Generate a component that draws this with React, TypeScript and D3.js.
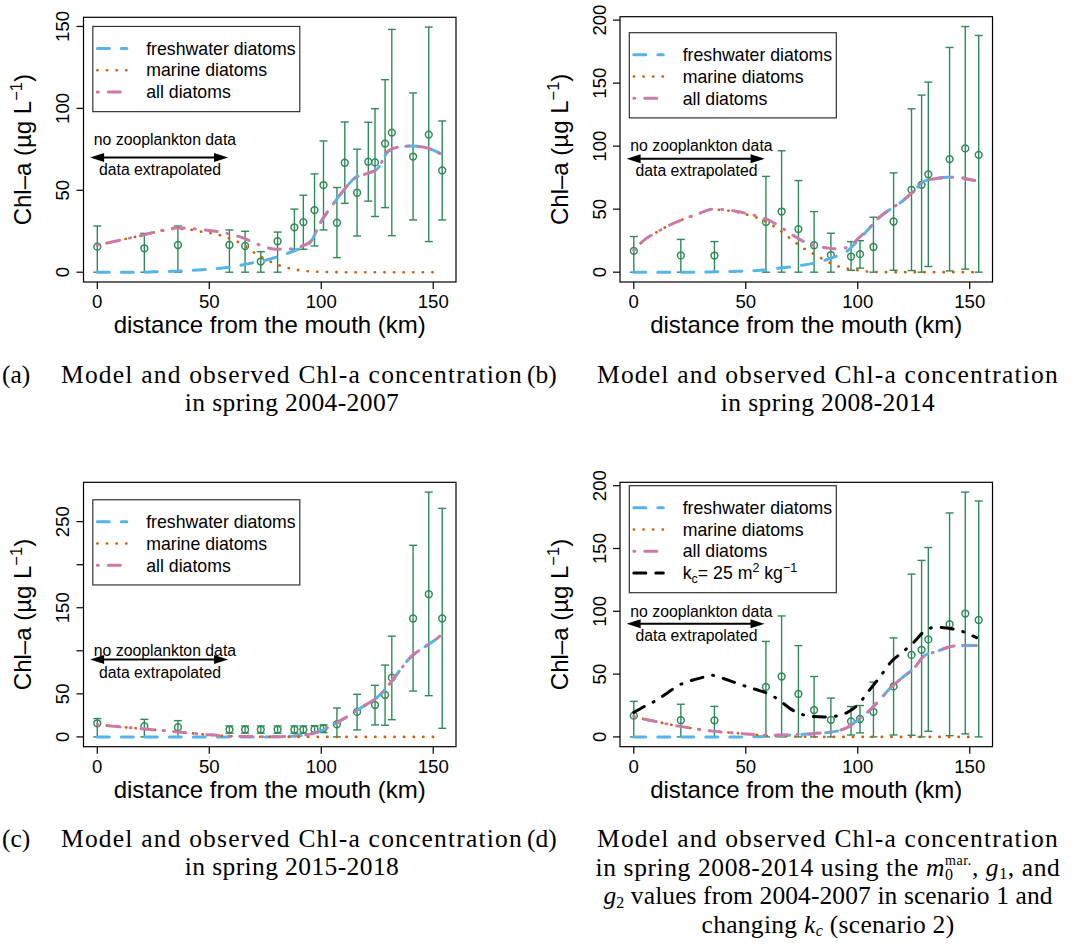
import React from "react";
import * as d3 from "d3";

// ---------------- data ----------------
const kmGrid = [0, 5, 10, 15, 20, 25, 30, 35, 40, 45, 50, 55, 60, 65, 70, 75, 80, 85, 90, 95, 100, 105, 110, 115, 120, 125, 130, 135, 140, 145, 150, 153];
const xTicks = [0, 50, 100, 150];

// (a) spring 2004-2007
const stationsA = [0, 21, 36, 59, 66, 73, 80.5, 88, 92, 97, 101, 107, 110.5, 116, 121, 124, 128.5, 131.5, 141, 148, 154];
const meanA = [15.6, 14.6, 16.6, 16.6, 16, 6.5, 18.9, 27.4, 30.6, 37.9, 53.2, 30.2, 66.8, 48.5, 67.4, 67, 78.5, 85.2, 70.6, 84, 62.1];
const upperA = [28.2, 23.7, 28.2, 25.8, 25, 12.5, 24.5, 38.5, 47, 60, 80.1, 51.7, 91.7, 75.1, 91.5, 99.8, 117.5, 148.2, 109.4, 149.6, 92.3];
const lowerA = [0, 0, 0, 0, 0, 0, 0, 14, 14, 16, 25.8, 8.9, 42, 22.1, 43.4, 34, 39.4, 22.3, 31.9, 18.7, 31.9];
const freshA = [0, 0, 0, 0, 0, 0.2, 0.4, 0.6, 0.9, 1.3, 1.8, 2.4, 3.2, 4.5, 6, 7.3, 9.2, 11.5, 14.2, 18, 31, 41, 50, 57.5, 60, 63, 74, 76.5, 77, 76.5, 74.5, 72.5];
const marineA = [16.5, 18, 19.5, 21, 22.5, 24.2, 25.5, 26.5, 26.3, 25, 24, 22.5, 20, 17, 12, 8, 4.8, 2.6, 1.2, 0.5, 0.2, 0.1, 0, 0, 0, 0, 0, 0, 0, 0, 0, 0];
const allA = [16.5, 18, 19.5, 21, 22.5, 24.3, 25.8, 27, 27, 26.2, 25.5, 24.5, 23, 21, 18, 15.3, 14, 14.1, 15.3, 18.5, 31.2, 41, 50, 57.5, 60, 63, 74, 76.5, 77, 76.5, 74.5, 72.5];

// (b) spring 2008-2014
const stationsB = [0, 21, 36, 59, 66, 73.5, 80.5, 88, 97, 101, 107, 116, 124, 128.5, 131.5, 141, 148, 154];
const meanB = [16.9, 13.3, 13.2, 39.8, 48.1, 34.2, 21.4, 13.6, 12.4, 14.3, 20, 40.2, 65.3, 69.3, 77.6, 89.7, 98.2, 93.1];
const upperB = [28.3, 26, 24.3, 76, 96.3, 72.7, 48.1, 30.9, 24.2, 25, 43.6, 78.8, 129.6, 140.5, 150.8, 178.3, 194.9, 187.8];
const lowerB = [0, 0, 0, 0, 0, 0, 0, 0, 1.5, 3.2, 0, 1.5, 1.3, 0, 4.5, 1, 2.4, 0];
const freshB = [0, 0, 0, 0, 0, 0, 0, 0.2, 0.4, 0.6, 0.9, 1.3, 2.2, 3.2, 4.2, 5.5, 7, 9.3, 12.3, 16.3, 25, 34.5, 44, 50.5, 56.5, 64.5, 72.5, 74.3, 75.3, 75.2, 73.5, 72.5];
const marineB = [17.5, 26, 31.5, 36.5, 40.5, 44, 47, 49.8, 49.2, 48, 45.9, 43.2, 39, 33.5, 26.5, 19.8, 14.8, 9.8, 5.4, 3, 1.5, 0.4, 0.1, 0, 0, 0, 0, 0, 0, 0, 0, 0];
const allB = [17.5, 26, 31.5, 36.5, 40.5, 44, 47.2, 50, 49.6, 48.6, 46.8, 44.5, 41.5, 36.5, 30.5, 25, 21.5, 19.5, 18.5, 19.5, 26.5, 34.9, 44.1, 50.5, 56.5, 64.5, 72.5, 74.3, 75.3, 75.2, 73.5, 72.5];

// (c) spring 2015-2018
const stationsC = [0, 21, 36, 59, 66, 73, 80.5, 88, 92, 97, 101, 107, 116, 124, 128.5, 131.5, 141, 148, 154];
const meanC = [15.8, 12.5, 11.2, 8.5, 8.5, 8.5, 8.5, 8.5, 8.5, 8.9, 10, 14.7, 29, 37.1, 48.7, 68.8, 137.5, 165.7, 137.5];
const upperC = [21.3, 20.4, 18.9, 12.7, 12.7, 12.7, 12.7, 12.7, 12.7, 13, 14, 33.6, 49.5, 59.9, 83.4, 117, 222.5, 284.3, 265.4];
const lowerC = [0, 0, 0, 4.3, 4.3, 4.3, 4.3, 4.3, 4.3, 4.6, 5, 0, 8.1, 13.9, 13.5, 20, 53.3, 47.9, 10];
const freshC = [0, 0, 0, 0, 0, 0, 0, 0, 0, 0, 0, 0, 0, 0, 0, 0, 0.1, 0.5, 1.5, 3.2, 7.3, 13.8, 21, 29.3, 37.5, 45.8, 60, 77, 93, 102.5, 111, 117];
const marineC = [14, 12.9, 11.7, 10.6, 9.5, 8.3, 7.2, 6, 4.8, 3.6, 2.4, 1.5, 0.8, 0.5, 0.3, 0.2, 0.1, 0.05, 0, 0, 0, 0, 0, 0, 0, 0, 0, 0, 0, 0, 0, 0];
const allC = [14, 12.9, 11.7, 10.6, 9.5, 8.3, 7.2, 6, 4.8, 3.6, 2.4, 1.5, 0.8, 0.5, 0.3, 0.2, 0.2, 0.6, 1.5, 3.2, 7.3, 13.8, 21, 29.3, 37.5, 45.8, 60, 77, 93, 102.5, 111, 117];

// (d) spring 2008-2014, scenario 1 and k_c scenario 2 (observations as in b)
const freshD = [0, 0, 0, 0, 0, 0, 0, 0, 0, 0, 0, 0.2, 0.5, 1, 1.4, 2, 2.5, 3.2, 4.4, 7.1, 13.5, 20.5, 30, 39.7, 47.3, 54.6, 65, 67.8, 71.2, 72.7, 72.8, 72.8];
const marineD = [16.4, 14, 12.2, 10.3, 8.6, 7.2, 5.8, 4.6, 3.8, 3.1, 2.4, 1.6, 0.8, 0.5, 0.4, 0.2, 0.1, 0.05, 0, 0, 0, 0, 0, 0, 0, 0, 0, 0, 0, 0, 0, 0];
const allD = [16.4, 14, 12.2, 10.3, 8.6, 7.2, 5.8, 4.6, 3.8, 3.1, 2.4, 1.8, 1.3, 1.5, 1.8, 2.2, 2.6, 3.4, 4.6, 7.2, 13.5, 20.5, 30, 39.7, 47.3, 54.6, 65, 67.8, 71.2, 72.7, 72.8, 72.8];
const kcD = [19.5, 24.5, 29, 35, 41, 44.5, 47, 49, 46.5, 43.4, 40.3, 37.5, 34.5, 29.1, 22.3, 18, 16.2, 15.9, 16.5, 19.2, 25.5, 36.7, 48, 60, 67.5, 75.3, 84.5, 87.4, 86.6, 85, 81.5, 79];

const legendLabels = ["freshwater diatoms", "marine diatoms", "all diatoms"];
const panelLetters = ["(a)", "(b)", "(c)", "(d)"];
const captionLine1 = "Model and observed Chl-a concentration";
const captionLine2 = ["in spring 2004-2007", "in spring 2008-2014", "in spring 2015-2018"];

// ---------------- styles ----------------
const SANS = "'Liberation Sans', Arial, Helvetica, sans-serif";
const SERIF = "'Liberation Serif', 'Times New Roman', serif";
const COL_FRESH = "#56B4E9";
const COL_MARINE = "#D55E00";
const COL_ALL = "#CC79A7";
const COL_OBS = "#2E8B57";

type Style = { color: string; width: number; dash: string };
const STYLE_FRESH: Style = { color: COL_FRESH, width: 3, dash: "12 12" };
const STYLE_MARINE: Style = { color: COL_MARINE, width: 2.6, dash: "0.3 9.3" };
const STYLE_ALL: Style = { color: COL_ALL, width: 3, dash: "1 10 12 10" };
const STYLE_KC: Style = { color: "#000", width: 3, dash: "12 10 1 10" };

type Frame = { x0: number; x1: number; y0: number; y1: number };
type PanelSpec = {
  frame: Frame;
  stations: number[];
  mean: number[];
  upper: number[];
  lower: number[];
  lines: { values: number[]; style: Style }[];
  yTicks: number[];
  yLabels: number[];
  legendTop: number;
  legendKc: boolean;
  arrowY: number;
  text1Y: number;
  text2Y: number;
};

const panels: PanelSpec[] = [
  {
    frame: { x0: 83.5, x1: 456, y0: 17.3, y1: 282 },
    stations: stationsA, mean: meanA, upper: upperA, lower: lowerA,
    lines: [
      { values: freshA, style: STYLE_FRESH },
      { values: marineA, style: STYLE_MARINE },
      { values: allA, style: STYLE_ALL },
    ],
    yTicks: [0, 50, 100, 150], yLabels: [0, 50, 100, 150],
    legendTop: 150, legendKc: false, arrowY: 70, text1Y: 77.5, text2Y: 59.5,
  },
  {
    frame: { x0: 620, x1: 992.5, y0: 16.7, y1: 282 },
    stations: stationsB, mean: meanB, upper: upperB, lower: lowerB,
    lines: [
      { values: freshB, style: STYLE_FRESH },
      { values: marineB, style: STYLE_MARINE },
      { values: allB, style: STYLE_ALL },
    ],
    yTicks: [0, 50, 100, 150, 200], yLabels: [0, 50, 100, 150, 200],
    legendTop: 190, legendKc: false, arrowY: 90, text1Y: 95.9, text2Y: 76,
  },
  {
    frame: { x0: 83.5, x1: 456, y0: 482.3, y1: 746.7 },
    stations: stationsC, mean: meanC, upper: upperC, lower: lowerC,
    lines: [
      { values: freshC, style: STYLE_FRESH },
      { values: marineC, style: STYLE_MARINE },
      { values: allC, style: STYLE_ALL },
    ],
    yTicks: [0, 50, 100, 150, 200, 250], yLabels: [0, 50, 150, 250],
    legendTop: 275.4, legendKc: false, arrowY: 90, text1Y: 94.3, text2Y: 68.8,
  },
  {
    frame: { x0: 620, x1: 992.5, y0: 482.3, y1: 746.7 },
    stations: stationsB, mean: meanB, upper: upperB, lower: lowerB,
    lines: [
      { values: freshD, style: STYLE_FRESH },
      { values: marineD, style: STYLE_MARINE },
      { values: allD, style: STYLE_ALL },
      { values: kcD, style: STYLE_KC },
    ],
    yTicks: [0, 50, 100, 150, 200], yLabels: [0, 50, 100, 150, 200],
    legendTop: 200, legendKc: true, arrowY: 90, text1Y: 95.6, text2Y: 76.3,
  },
];

function Panel({ p }: { p: PanelSpec }) {
  const f = p.frame;
  const [smin, smax] = d3.extent(p.stations) as [number, number];
  const xpad = (smax - smin) * 0.04;
  const x = d3.scaleLinear().domain([smin - xpad, smax + xpad]).range([f.x0, f.x1]);
  const ymax = d3.max(p.upper) as number;
  const y = d3.scaleLinear().domain([-0.04 * ymax, 1.04 * ymax]).range([f.y1, f.y0]);
  const line = d3
    .line<number>()
    .x((_, i) => x(kmGrid[i]))
    .y((d) => y(d))
    .curve(d3.curveMonotoneX);

  const legendX = x(-2);
  const legendY = y(p.legendTop);
  const rows = p.legendKc ? 4 : 3;
  const rowH = 21.8;
  const legendH = (rows + 1) * rowH - 2;
  const legendStyles = [STYLE_FRESH, STYLE_MARINE, STYLE_ALL, STYLE_KC];

  const ax0 = x(-3.2);
  const ax1 = x(58.4);
  const ay = y(p.arrowY);
  const head = 14;
  const hw = 4.5;

  return (
    <g>
      {/* observations */}
      {p.stations.map((s, i) => (
        <g key={"o" + i} stroke={COL_OBS} fill="none">
          <line x1={x(s)} x2={x(s)} y1={y(p.lower[i])} y2={y(p.upper[i])} strokeWidth={1.4} />
          <line x1={x(s) - 4} x2={x(s) + 4} y1={y(p.lower[i])} y2={y(p.lower[i])} strokeWidth={1.4} />
          <line x1={x(s) - 4} x2={x(s) + 4} y1={y(p.upper[i])} y2={y(p.upper[i])} strokeWidth={1.4} />
          <circle cx={x(s)} cy={y(p.mean[i])} r={3.4} strokeWidth={1.5} />
        </g>
      ))}
      {/* model lines */}
      {p.lines.map((l, i) => (
        <path
          key={"l" + i}
          d={line(l.values) || ""}
          fill="none"
          stroke={l.style.color}
          strokeWidth={l.style.width}
          strokeDasharray={l.style.dash}
          strokeLinecap="round"
        />
      ))}
      {/* frame */}
      <rect x={f.x0} y={f.y0} width={f.x1 - f.x0} height={f.y1 - f.y0} fill="none" stroke="#000" strokeWidth={1.2} />
      {/* x axis */}
      {xTicks.map((t) => (
        <g key={"xt" + t}>
          <line x1={x(t)} x2={x(t)} y1={f.y1} y2={f.y1 + 7} stroke="#000" strokeWidth={1.2} />
          <text x={x(t)} y={f.y1 + 26.3} textAnchor="middle" fontFamily={SANS} fontSize={18.6}>
            {t}
          </text>
        </g>
      ))}
      {/* y axis */}
      {p.yTicks.map((t) => (
        <line key={"yt" + t} x1={f.x0 - 7} x2={f.x0} y1={y(t)} y2={y(t)} stroke="#000" strokeWidth={1.2} />
      ))}
      {p.yLabels.map((t) => (
        <text
          key={"yl" + t}
          transform={`translate(${f.x0 - 14.5},${y(t)}) rotate(-90)`}
          textAnchor="middle"
          fontFamily={SANS}
          fontSize={18.6}
        >
          {t}
        </text>
      ))}
      <text x={(f.x0 + f.x1) / 2} y={f.y1 + 51.3} textAnchor="middle" fontFamily={SANS} fontSize={24}>
        distance from the mouth (km)
      </text>
      <text
        transform={`translate(${f.x0 - 52.3},${(f.y0 + f.y1) / 2}) rotate(-90)`}
        textAnchor="middle"
        fontFamily={SANS}
        fontSize={24}
      >
        Chl–a (µg L<tspan fontSize={16.5} dy={-9}>−1</tspan>
        <tspan dy={9}>)</tspan>
      </text>
      {/* legend */}
      <rect x={legendX} y={legendY} width={207} height={legendH} fill="#fff" stroke="#333" strokeWidth={1.2} />
      {Array.from({ length: rows }).map((_, i) => {
        const cy = legendY + 22 + i * rowH;
        const st = legendStyles[i];
        return (
          <g key={"lg" + i}>
            <line
              x1={legendX + 4.5}
              x2={legendX + 34}
              y1={cy}
              y2={cy}
              stroke={st.color}
              strokeWidth={st.width}
              strokeDasharray={i === 3 ? "12 10" : st.dash}
              strokeLinecap="round"
            />
            {i < 3 ? (
              <text x={legendX + 53.4} y={cy + 6.2} fontFamily={SANS} fontSize={17.7}>
                {legendLabels[i]}
              </text>
            ) : (
              <text x={legendX + 53.4} y={cy + 6.2} fontFamily={SANS} fontSize={17.7}>
                k<tspan fontSize={12.5} dy={4}>c</tspan>
                <tspan dy={-4}>= 25 m</tspan>
                <tspan fontSize={12.5} dy={-7}>2</tspan>
                <tspan dy={7}> kg</tspan>
                <tspan fontSize={12.5} dy={-7}>−1</tspan>
              </text>
            )}
          </g>
        );
      })}
      {/* annotation */}
      <line x1={ax0 + head - 1} x2={ax1 - head + 1} y1={ay} y2={ay} stroke="#000" strokeWidth={2} />
      <polygon points={`${ax0},${ay} ${ax0 + head},${ay - hw} ${ax0 + head},${ay + hw}`} fill="#000" />
      <polygon points={`${ax1},${ay} ${ax1 - head},${ay - hw} ${ax1 - head},${ay + hw}`} fill="#000" />
      <text x={x(30.2)} y={y(p.text1Y)} textAnchor="middle" fontFamily={SANS} fontSize={15.8}>
        no zooplankton data
      </text>
      <text x={x(28)} y={y(p.text2Y)} textAnchor="middle" fontFamily={SANS} fontSize={15.8}>
        data extrapolated
      </text>
    </g>
  );
}

function Captions() {
  const fs = 25.5;
  const colCenter = [292, 828];
  const colLabel = [2, 527];
  const rowBase = [383, 847];
  const lh = 28;
  const lhD = 28.6;
  const base = { fontFamily: SERIF, fontSize: fs } as any;
  return (
    <g>
      {[0, 1, 2, 3].map((k) => {
        const c = k % 2;
        const r = Math.floor(k / 2);
        return (
          <g key={"cap" + k}>
            <text x={colLabel[c]} y={rowBase[r]} {...base}>
              {panelLetters[k]}
            </text>
            <text x={colCenter[c]} y={rowBase[r]} textAnchor="middle" letterSpacing={1.2} {...base}>
              {captionLine1}
            </text>
            {k < 3 ? (
              <text x={colCenter[c]} y={rowBase[r] + lh} textAnchor="middle" letterSpacing={0.4} {...base}>
                {captionLine2[k]}
              </text>
            ) : null}
          </g>
        );
      })}
      <text x={colCenter[1]} y={rowBase[1] + lhD} textAnchor="middle" letterSpacing={0.6} {...base}>
        in spring 2008-2014 using the <tspan fontStyle="italic">m</tspan>
        <tspan fontSize={16} dy={4}>0</tspan>
        <tspan fontSize={14} dx={-8.6} dy={-14.5}>mar.</tspan>
        <tspan dy={10.5}>, </tspan>
        <tspan fontStyle="italic">g</tspan>
        <tspan fontSize={16} dy={3.5}>1</tspan>
        <tspan dy={-3.5}>, and</tspan>
      </text>
      <text x={colCenter[1]} y={rowBase[1] + 2 * lhD} textAnchor="middle" letterSpacing={0.1} {...base}>
        <tspan fontStyle="italic">g</tspan>
        <tspan fontSize={16} dy={3.5}>2</tspan>
        <tspan dy={-3.5}> values from 2004-2007 in scenario 1 and</tspan>
      </text>
      <text x={colCenter[1]} y={rowBase[1] + 3 * lhD} textAnchor="middle" letterSpacing={0.3} {...base}>
        changing <tspan fontStyle="italic">k</tspan>
        <tspan fontSize={16} fontStyle="italic" dy={3.5}>c</tspan>
        <tspan dy={-3.5}> (scenario 2)</tspan>
      </text>
    </g>
  );
}

export default function App() {
  return (
    <div>
      <style>{`body{margin:0;background:#fff}`}</style>
      <svg width={1079} height={944} viewBox="0 0 1079 944" style={{ display: "block" }}>
        <rect x={0} y={0} width={1079} height={944} fill="#fff" />
        {panels.map((p, i) => (
          <Panel key={i} p={p} />
        ))}
        <Captions />
      </svg>
    </div>
  );
}
